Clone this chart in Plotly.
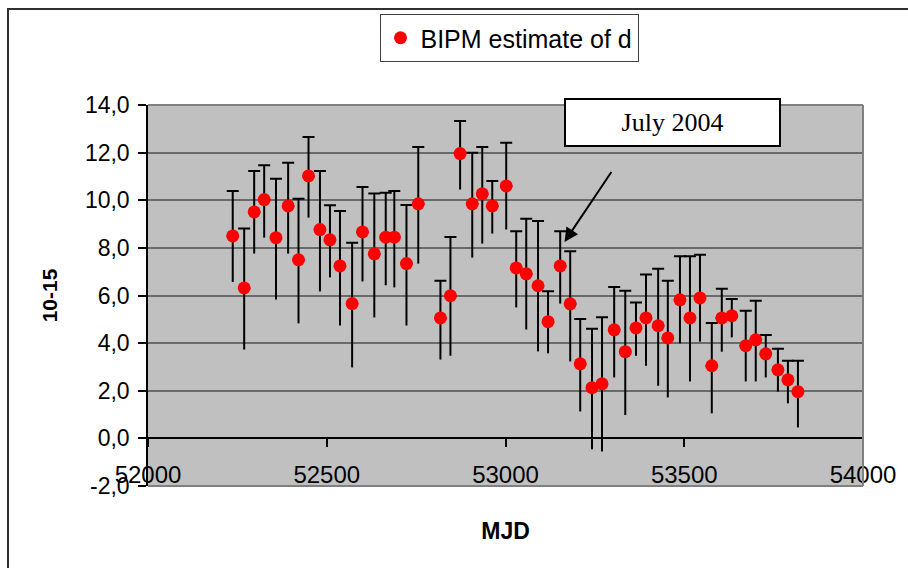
import plotly.graph_objects as go

# ---- data ----
mjd = [52237, 52269, 52297, 52325, 52358, 52392, 52421, 52449, 52481, 52509,
       52537, 52571, 52600, 52633, 52665, 52689, 52723, 52756, 52818, 52846,
       52873, 52907, 52935, 52963, 53002, 53030, 53058, 53091, 53119, 53153,
       53181, 53209, 53242, 53270, 53304, 53335, 53365, 53393, 53427, 53454,
       53488, 53516, 53544, 53577, 53605, 53633, 53672, 53700, 53728, 53762,
       53790, 53818]
d_est = [8.50, 6.32, 9.51, 10.03, 8.43, 9.76, 7.50, 11.02, 8.77, 8.34,
         7.24, 5.66, 8.67, 7.75, 8.45, 8.45, 7.34, 9.85, 5.06, 5.99,
         11.96, 9.85, 10.27, 9.76, 10.60, 7.16, 6.91, 6.41, 4.90, 7.24,
         5.65, 3.13, 2.13, 2.29, 4.56, 3.64, 4.64, 5.06, 4.73, 4.22,
         5.82, 5.06, 5.90, 3.05, 5.06, 5.15, 3.89, 4.14, 3.55, 2.88,
         2.46, 1.96]
d_upper = [10.39, 8.81, 11.23, 11.47, 10.90, 11.57, 10.06, 12.66, 11.23, 9.79,
           9.55, 8.21, 10.56, 10.28, 10.32, 10.39, 9.80, 12.24, 6.62, 8.46,
           13.33, 11.99, 12.24, 10.81, 12.41, 8.70, 9.22, 9.13, 6.18, 8.70,
           7.86, 5.01, 4.60, 5.09, 6.36, 6.20, 5.71, 6.88, 7.12, 6.62,
           7.65, 7.65, 7.71, 4.85, 6.28, 5.85, 5.36, 5.78, 4.34, 3.76,
           3.26, 3.26]
d_lower = [6.57, 3.73, 7.76, 8.43, 5.83, 7.76, 4.83, 9.27, 6.17, 6.76,
           4.74, 2.98, 6.59, 5.08, 6.43, 6.34, 4.74, 7.34, 3.31, 3.47,
           10.45, 7.59, 8.18, 8.60, 8.77, 5.50, 4.57, 3.65, 3.57, 5.66,
           3.23, 1.13, -0.46, -0.55, 2.56, 0.98, 3.47, 3.05, 2.21, 1.72,
           3.99, 2.39, 4.06, 1.05, 3.64, 4.24, 2.39, 2.39, 2.56, 1.96,
           1.47, 0.46]
y_tickvals = [-2, 0, 2, 4, 6, 8, 10, 12, 14]
y_ticktext = ["-2,0", "0,0", "2,0", "4,0", "6,0", "8,0", "10,0", "12,0", "14,0"]
x_tickvals = [52000, 52500, 53000, 53500, 54000]
x_ticktext = ["52000", "52500", "53000", "53500", "54000"]
series_name = "BIPM estimate of d"
note_text = "July 2004"
note_arrow_head = (53165, 8.25)
note_arrow_tail = (53299, 11.25)

err_plus = [u - v for u, v in zip(d_upper, d_est)]
err_minus = [v - l for v, l in zip(d_est, d_lower)]
zeros = [0] * len(mjd)

SANS = "Liberation Sans, Arial, sans-serif"
SERIF = "Liberation Serif, Times New Roman, serif"

fig = go.Figure()
# upper error bars with caps
fig.add_trace(go.Scatter(
    x=mjd, y=d_est, mode="markers",
    marker=dict(size=2, color="black"),
    error_y=dict(type="data", symmetric=False, array=err_plus, arrayminus=zeros,
                 width=6, thickness=2, color="black"),
    showlegend=False, hoverinfo="skip"))
# lower error bars without caps + red markers
fig.add_trace(go.Scatter(
    x=mjd, y=d_est, mode="markers", name=series_name,
    marker=dict(size=13, color="#FF0000"),
    error_y=dict(type="data", symmetric=False, array=zeros, arrayminus=err_minus,
                 width=0, thickness=2, color="black")))

# plot area geometry (px)
L, R, T, B = 148, 45, 105, 82
W, H = 908, 568
pw, ph = W - L - R, H - T - B

def px_x(p):
    return (p - L) / pw

def px_y(p):
    return (H - B - p) / ph

shapes = [
    # plot-area border (top, right, bottom) in grey
    dict(type="line", xref="paper", yref="paper", x0=0, x1=1, y0=1, y1=1,
         line=dict(color="#808080", width=2)),
    dict(type="line", xref="paper", yref="paper", x0=1, x1=1, y0=0, y1=1,
         line=dict(color="#808080", width=2)),
    dict(type="line", xref="paper", yref="paper", x0=0, x1=1, y0=0, y1=0,
         line=dict(color="#808080", width=2)),
    # outer chart border
    dict(type="rect", xref="paper", yref="paper",
         x0=px_x(8), x1=px_x(W + 10), y0=px_y(H + 10), y1=px_y(9),
         line=dict(color="#303030", width=2)),
]

fig.update_layout(
    width=W, height=H,
    margin=dict(l=L, r=R, t=T, b=B, autoexpand=False),
    paper_bgcolor="white", plot_bgcolor="#C0C0C0",
    font=dict(family=SANS, color="black"),
    shapes=shapes,
    legend=dict(x=509 / W, y=1 - 38 / H, xref="container", yref="container",
                xanchor="center", yanchor="middle",
                bgcolor="white", bordercolor="#404040", borderwidth=1,
                font=dict(family=SANS, size=25), itemwidth=30),
    xaxis=dict(range=[52000, 54000], tickvals=x_tickvals, ticktext=x_ticktext,
               anchor="free", position=0.125, showgrid=False, zeroline=False,
               automargin=False,
               showline=True, linecolor="black", linewidth=1.5,
               ticks="outside", ticklen=8, tickcolor="black", tickwidth=1.5,
               tickfont=dict(family=SANS, size=24), ticklabelstandoff=7,
               title=dict(text="<b>MJD</b>", font=dict(family=SANS, size=23),
                          standoff=35)),
    yaxis=dict(range=[-2, 14], tickvals=y_tickvals, ticktext=y_ticktext,
               showgrid=True, gridcolor="#6a6a6a", gridwidth=1.5, zeroline=False,
               automargin=False,
               showline=True, linecolor="black", linewidth=1.5,
               ticks="outside", ticklen=8, tickcolor="black", tickwidth=1.5,
               tickfont=dict(family=SANS, size=23), ticklabelstandoff=4,
               title=dict(text="<b>10-15</b>", font=dict(family=SANS, size=21),
                          standoff=22)),
    annotations=[
        dict(x=note_arrow_head[0], y=note_arrow_head[1], xref="x", yref="y",
             ax=note_arrow_tail[0], ay=note_arrow_tail[1], axref="x", ayref="y",
             text="", showarrow=True, arrowhead=2, arrowsize=1.4,
             arrowwidth=2, arrowcolor="black"),
        dict(x=px_x(672.5), y=px_y(122.5), xref="paper", yref="paper",
             xanchor="center", yanchor="middle", text=note_text, showarrow=False,
             font=dict(family=SERIF, size=26, color="black"),
             bgcolor="white", bordercolor="black", borderwidth=2, borderpad=0,
             width=213, height=45),
    ],
)

fig.write_html("out.html",
               config={"displayModeBar": False},
               post_script="document.body.style.margin='0';"
                           "document.body.style.overflow='hidden';")
